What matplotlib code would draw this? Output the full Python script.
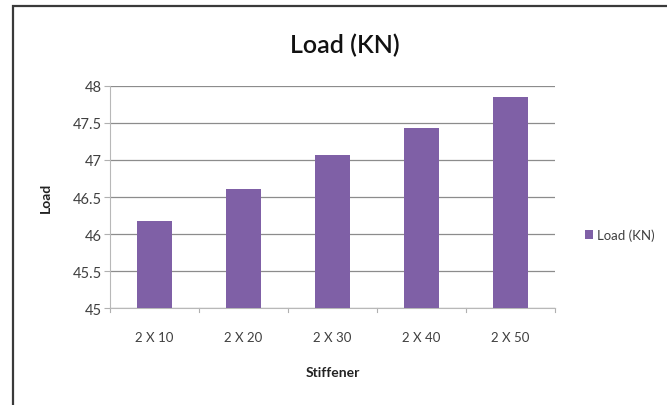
import matplotlib
matplotlib.use("Agg")
import matplotlib.pyplot as plt
from matplotlib.patches import Rectangle

categories = ["2 X 10", "2 X 20", "2 X 30", "2 X 40", "2 X 50"]
load_kn = [46.17, 46.61, 47.07, 47.43, 47.85]
y_ticks = [45, 45.5, 46, 46.5, 47, 47.5, 48]
y_tick_labels = ["45", "45.5", "46", "46.5", "47", "47.5", "48"]

plt.rcParams["font.family"] = ["Lato", "DejaVu Sans"]

W, H = 667, 406
fig = plt.figure(figsize=(W / 100, H / 100), dpi=100)
fig.patch.set_facecolor("white")

# chart frame (extends past the right/bottom edges)
fig.add_artist(Rectangle((13 / W, -0.05), 1.1, 1 - 7 / H + 0.05,
                         transform=fig.transFigure, fill=False,
                         edgecolor="#3a3a3a", linewidth=1.6))

ax = fig.add_axes([110 / W, 1 - 309.3 / H, 445 / W, (309.3 - 86.7) / H])
x = range(len(categories))
ax.bar(x, [v - 45 for v in load_kn], bottom=45, width=0.4, color="#7F60A6",
       label="Load (KN)", zorder=3)

ax.set_xlim(-0.5, len(categories) - 0.5)
ax.set_ylim(45, 48)
ax.set_yticks(y_ticks)
ax.set_yticklabels(y_tick_labels, fontsize=10.5, color="#404040")
ax.set_xticks(list(x))
ax.set_xticklabels(categories, fontsize=9.5, color="#404040")
ax.tick_params(axis="x", length=0, pad=16)
ax.tick_params(axis="y", length=4, color="#b0b0b0", pad=2)

# category boundary tick marks
for b in [i - 0.5 for i in range(len(categories) + 1)]:
    ax.plot([b, b], [45, 44.95], color="#b0b0b0", lw=0.8, clip_on=False)

ax.grid(axis="y", color="#8c8c8c", linewidth=0.9, zorder=0)
for s in ["top", "right"]:
    ax.spines[s].set_visible(False)
ax.spines["left"].set_color("#b8b8b8")
ax.spines["bottom"].set_color("#b8b8b8")

ax.set_ylabel("Load", fontsize=10, fontweight="bold", color="#222222", labelpad=15)
ax.set_xlabel("Stiffener", fontsize=10, fontweight="bold", color="#222222", labelpad=17)

fig.text(345 / W, 1 - 45 / H, "Load (KN)", fontsize=18, fontweight="semibold",
         ha="center", va="center", color="#111111")

leg = ax.legend(loc="center left", bbox_to_anchor=(1.04, 0.33), frameon=False,
                fontsize=9.5, handlelength=0.6, handleheight=0.6, handletextpad=0.3)
for t in leg.get_texts():
    t.set_color("#404040")

fig.savefig("out.png", dpi=100)
